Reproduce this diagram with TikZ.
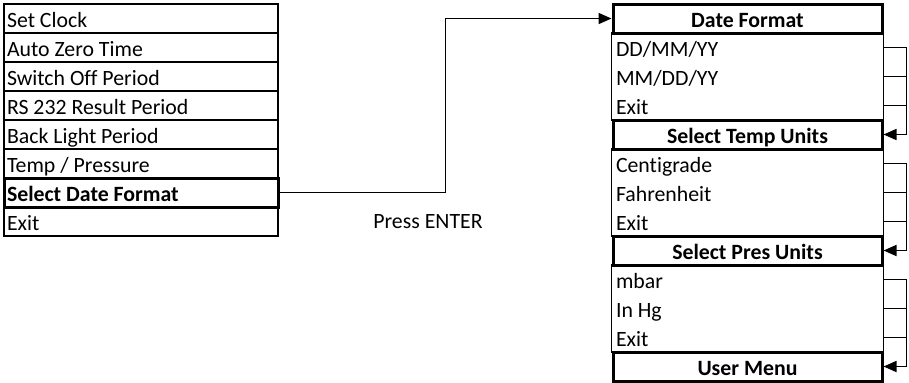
\documentclass[tikz,border=0pt]{standalone}
\usepackage{fontspec}
\setmainfont{Carlito}[RawFeature=-liga]
\usetikzlibrary{arrows.meta,positioning}

\newcommand{\menufont}{\fontsize{10.9}{13}\selectfont}

\tikzset{
  row/.style={minimum height=14.5pt,inner ysep=0pt,text height=9pt,text depth=0.5pt},
  item/.style={row,draw,line width=0.85pt,text width=134pt,
    inner xsep=1.5pt,align=flush left},
  opt/.style={row,text width=131.5pt,inner xsep=2pt,align=flush left},
  head/.style={row,draw,line width=1.5pt,text width=131.5pt,
    inner xsep=1.5pt,align=flush center,font=\menufont\bfseries},
  link/.style={line width=0.85pt},
  tip/.style={-{Triangle[length=6.5pt,width=5.5pt]}}
}

\begin{document}
\begin{tikzpicture}[x=0.5pt,y=-0.5pt,font=\menufont]
  \useasboundingbox (0,0) rectangle (909,382);
  % user menu
  \foreach \n/\y/\t in {clk/18.5/Set Clock, azt/47.5/Auto Zero Time,
      sop/76.5/Switch Off Period, rsp/105.5/RS 232 Result Period,
      blp/134.5/Back Light Period, tpr/163.5/{Temp / Pressure}, mex/221.5/Exit} {
    \node[item] (\n) at (141,\y) {\t};
  }
  \node[item,line width=1.5pt,font=\menufont\bfseries] (sdf) at (141,192.5) {Select Date Format};

  % options of each sub menu
  \foreach \n/\y/\t in {dmy/47.5/{DD/MM/YY}, mdy/76.5/{MM/DD/YY}, dex/105.5/Exit,
      cen/163.5/Centigrade, fah/192.5/Fahrenheit, tex/221.5/Exit,
      mb/279.5/mbar, ihg/308.5/In Hg, pex/337.5/Exit} {
    \node[opt] (\n) at (747.5,\y) {\t};
  }
  \draw[link] (dmy.north west) rectangle (dex.south east);
  \draw[link] (cen.north west) rectangle (tex.south east);
  \draw[link] (mb.north west) rectangle (pex.south east);

  % headers
  \node[head] (df) at (747.5,18.5) {Date Format};
  \node[head] (stu) at (747.5,134.5) {Select Temp Units};
  \node[head] (spu) at (747.5,250.5) {Select Pres Units};
  \node[head] (um) at (747.5,366.5) {User Menu};

  % enter
  \draw[link,tip] (sdf.east) -- ++(166,0) |- (df.west);
  \node (enter) at (428,222) {Press ENTER};

  % back to next header
  \draw[link,tip] (dmy.east) -- ++(23,0) |- (stu.east);
  \draw[link] (mdy.east) -- ++(23,0);
  \draw[link] (dex.east) -- ++(23,0);
  \draw[link,tip] (cen.east) -- ++(23,0) |- (spu.east);
  \draw[link] (fah.east) -- ++(23,0);
  \draw[link] (tex.east) -- ++(23,0);
  \draw[link,tip] (mb.east) -- ++(23,0) |- (um.east);
  \draw[link] (ihg.east) -- ++(23,0);
  \draw[link] (pex.east) -- ++(23,0);
\end{tikzpicture}
\end{document}
